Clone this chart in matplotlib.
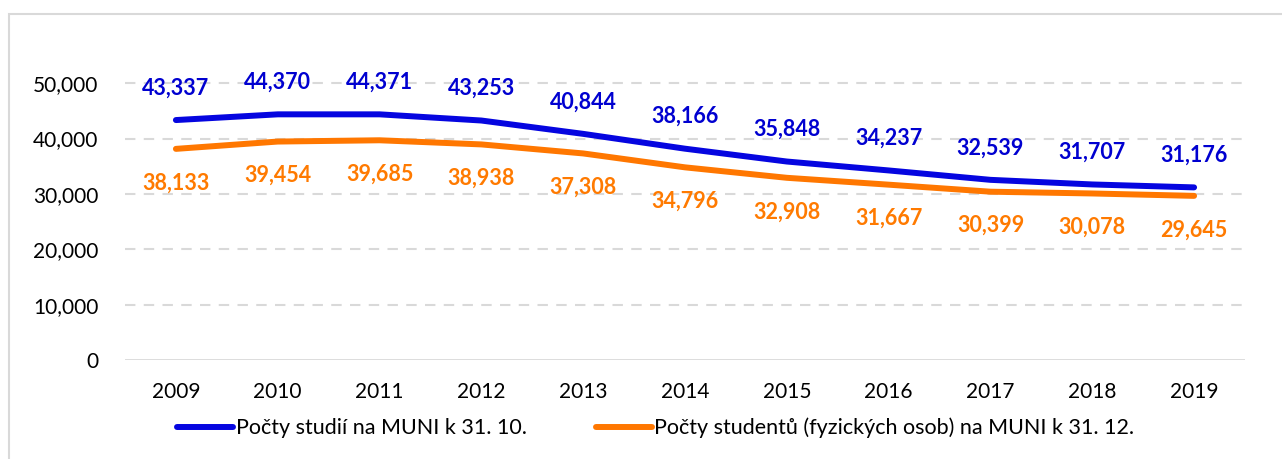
import matplotlib.pyplot as plt
from matplotlib.patches import Rectangle
from matplotlib.ticker import FuncFormatter

plt.rcParams['font.family'] = ['Lato', 'DejaVu Sans']

years = ['2009', '2010', '2011', '2012', '2013', '2014', '2015', '2016', '2017', '2018', '2019']
studia = [43337, 44370, 44371, 43253, 40844, 38166, 35848, 34237, 32539, 31707, 31176]
studenti = [38133, 39454, 39685, 38938, 37308, 34796, 32908, 31667, 30399, 30078, 29645]

label_studia = 'Počty studií na MUNI k 31. 10.'
label_studenti = 'Počty studentů (fyzických osob) na MUNI k 31. 12.'

blue = '#0505E0'
orange = '#FF7700'

fig = plt.figure(figsize=(12.82, 4.59), dpi=100)
W, H = 1282, 459
ax = fig.add_axes([125 / W, 1 - 360 / H, (1245 - 125) / W, (360 - 27.8) / H])

# outer frame (cut off at right and bottom like the screenshot)
fig.patches.append(Rectangle((9 / W, -0.2), 2, 1.2 - 14 / H, transform=fig.transFigure,
                             fill=False, edgecolor='#D9D9D9', linewidth=1.5))

x = list(range(len(years)))
ax.plot(x, studia, color=blue, linewidth=4.3, solid_capstyle='round', solid_joinstyle='round',
        label=label_studia, zorder=3)
ax.plot(x, studenti, color=orange, linewidth=4.3, solid_capstyle='round', solid_joinstyle='round',
        label=label_studenti, zorder=3)

for i in x:
    ax.annotate(f'{studia[i]:,}', (i, studia[i]), xytext=(0, 32), textcoords='offset pixels',
                ha='center', va='center', fontsize=15.5, fontweight='bold', color='#0000D0')
    ax.annotate(f'{studenti[i]:,}', (i, studenti[i]), xytext=(0, -34), textcoords='offset pixels',
                ha='center', va='center', fontsize=15.5, fontweight='bold', color='#FF7A00')

ax.set_xlim(-0.5, len(years) - 0.5)
ax.set_ylim(0, 60000)
ax.set_yticks([0, 10000, 20000, 30000, 40000, 50000])
ax.yaxis.set_major_formatter(FuncFormatter(lambda v, p: f'{int(v):,}'))
ax.set_xticks(x)
ax.set_xticklabels(years)

for s in ax.spines.values():
    s.set_visible(False)
ax.tick_params(axis='both', length=0, labelsize=15, colors='black')
ax.tick_params(axis='y', pad=19)
ax.tick_params(axis='x', pad=16)

for v in [10000, 20000, 30000, 40000, 50000]:
    ax.axhline(v, color='#D9D9D9', linewidth=1.5, linestyle=(0, (5, 4)), zorder=1)
ax.axhline(0, color='#D9D9D9', linewidth=2, zorder=1)

fig.legend(loc='center', bbox_to_anchor=(656 / W, 1 - 428 / H), ncol=2, frameon=False,
           fontsize=15.5, handlelength=2.6, handletextpad=0.12, columnspacing=3.2)

fig.savefig('out.png', dpi=100)
